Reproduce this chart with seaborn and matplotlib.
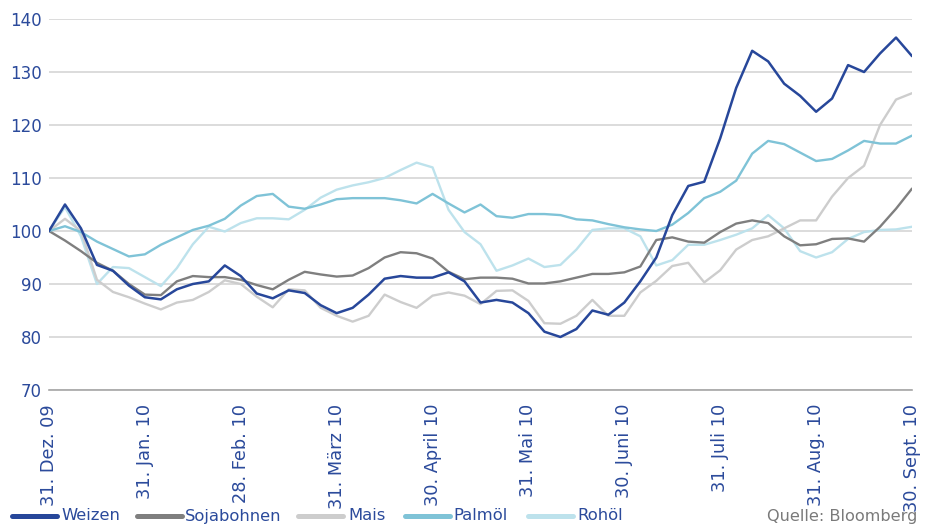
import numpy as np
import pandas as pd
import matplotlib
matplotlib.use("Agg")
import matplotlib.pyplot as plt
import seaborn as sns

# x in months since 31. Dez. 09, sampled every 1/6 month
month_labels = ["31. Dez. 09", "31. Jan. 10", "28. Feb. 10", "31. März 10", "30. April 10",
                "31. Mai 10", "30. Juni 10", "31. Juli 10", "31. Aug. 10", "30. Sept. 10"]

weizen = [100, 105, 100.5, 93.6, 92.5, 89.7, 87.5, 87.1, 89, 90,
          90.5, 93.5, 91.5, 88.2, 87.3, 88.8, 88.3, 86, 84.5, 85.5,
          88, 91, 91.5, 91.2, 91.2, 92.2, 90.5, 86.5, 87, 86.5,
          84.5, 81, 80, 81.5, 85, 84.2, 86.5, 90.5, 95, 103,
          108.5, 109.3, 117.5, 127, 134, 132, 127.8, 125.5, 122.5, 125,
          131.3, 130, 133.5, 136.5, 133]
sojabohnen = [100, 98.2, 96.2, 94, 92.5, 90, 88, 87.9, 90.5, 91.5,
              91.3, 91.3, 90.8, 89.8, 89, 90.8, 92.3, 91.8, 91.4, 91.6,
              93, 95, 96, 95.8, 94.8, 92.3, 90.9, 91.2, 91.2, 91,
              90.1, 90.1, 90.5, 91.2, 91.9, 91.9, 92.2, 93.3, 98.3, 98.8,
              98, 97.8, 99.8, 101.4, 102, 101.5, 99, 97.3, 97.5, 98.5,
              98.6, 98, 100.8, 104.2, 108]
mais = [100, 102.3, 100, 90.8, 88.5, 87.5, 86.3, 85.2, 86.5, 87,
        88.5, 90.7, 90, 87.6, 85.6, 89, 88.8, 85.5, 84, 82.9,
        84, 88, 86.6, 85.5, 87.8, 88.4, 87.8, 86.2, 88.7, 88.8,
        86.8, 82.6, 82.5, 84, 87, 84, 84, 88.4, 90.6, 93.4,
        94, 90.3, 92.6, 96.5, 98.3, 99, 100.5, 102, 102, 106.5,
        110, 112.3, 120, 124.8, 126]
palmoel = [100, 100.9, 99.8, 98, 96.6, 95.2, 95.6, 97.4, 98.8, 100.2,
           101, 102.3, 104.8, 106.6, 107, 104.6, 104.2, 105, 106, 106.2,
           106.2, 106.2, 105.8, 105.2, 107, 105.2, 103.5, 105, 102.8, 102.5,
           103.2, 103.2, 103, 102.2, 102, 101.3, 100.7, 100.3, 100, 101.2,
           103.4, 106.2, 107.4, 109.5, 114.6, 117, 116.4, 114.8, 113.2, 113.6,
           115.2, 117, 116.5, 116.5, 118]
rohoel = [100, 104.5, 99, 90, 93.2, 93, 91.3, 89.6, 93, 97.5,
          100.8, 99.9, 101.5, 102.4, 102.4, 102.2, 104, 106.3, 107.8, 108.6,
          109.2, 110, 111.5, 112.9, 112, 104, 99.8, 97.5, 92.5, 93.5,
          94.8, 93.2, 93.6, 96.5, 100.2, 100.5, 100.5, 99, 93.5, 94.5,
          97.4, 97.4, 98.3, 99.3, 100.5, 103, 100.5, 96.2, 95, 96,
          98.5, 99.8, 100.2, 100.3, 100.8]

series = {"Weizen": weizen, "Sojabohnen": sojabohnen, "Mais": mais,
          "Palmöl": palmoel, "Rohöl": rohoel}
colors = {"Weizen": "#27479a", "Sojabohnen": "#7f7f7f", "Mais": "#cdcdcd",
          "Palmöl": "#7fc3d7", "Rohöl": "#bde2ec"}

x = np.arange(len(weizen)) / 6.0
df = pd.concat([pd.DataFrame({"x": x, "wert": v, "serie": k}) for k, v in series.items()])

sns.set_style("white")
plt.rcParams['font.family'] = ['DejaVu Sans']
blue = "#2b4a9b"

W, H = 926, 527
fig = plt.figure(figsize=(W / 100, H / 100), dpi=100)
ax = fig.add_axes([49 / W, 1 - 390 / H, (912 - 49) / W, (390 - 19) / H])

# light lines first, Weizen on top
for name in ["Rohöl", "Mais", "Sojabohnen", "Palmöl", "Weizen"]:
    sub = df[df["serie"] == name]
    sns.lineplot(data=sub, x="x", y="wert", color=colors[name], ax=ax,
                 linewidth=1.8 if name == "Weizen" else 1.7, legend=False)

ax.set_xlim(0, 9)
ax.set_ylim(70, 140)
ax.set_yticks(range(70, 141, 10))
ax.set_xticks(range(10))
ax.set_xticklabels(month_labels, rotation=90, fontsize=12.8, color=blue)
ax.tick_params(axis="y", labelsize=12, colors=blue, length=0, pad=5)
ax.tick_params(axis="x", direction="out", length=6, width=1, color="#a6a6a6", pad=4)
ax.yaxis.grid(True, color="#d6d6d6", linewidth=1.2)
ax.set_axisbelow(True)
for s in ["top", "right", "left"]:
    ax.spines[s].set_visible(False)
ax.spines["bottom"].set_color("#a6a6a6")
ax.spines["bottom"].set_linewidth(1.2)
ax.set_xlabel("")
ax.set_ylabel("")

# legend row along the bottom edge, laid out in pixels
leg_pos = {"Weizen": (12, 57, 61), "Sojabohnen": (137, 182, 185), "Mais": (298, 343, 348),
           "Palmöl": (405, 450, 453), "Rohöl": (528, 573, 577)}
ly = 1 - 516 / H
for name, (x0, x1, tx) in leg_pos.items():
    fig.add_artist(plt.Line2D([x0 / W, x1 / W], [ly, ly], color=colors[name],
                              linewidth=3.6, transform=fig.transFigure))
    fig.text(tx / W, ly, name, ha="left", va="center", fontsize=11.8, color=blue)
fig.text(917 / W, ly, "Quelle: Bloomberg", ha="right", va="center", fontsize=11.6,
         color="#7a7a7a")

fig.savefig("out.png", dpi=100)
